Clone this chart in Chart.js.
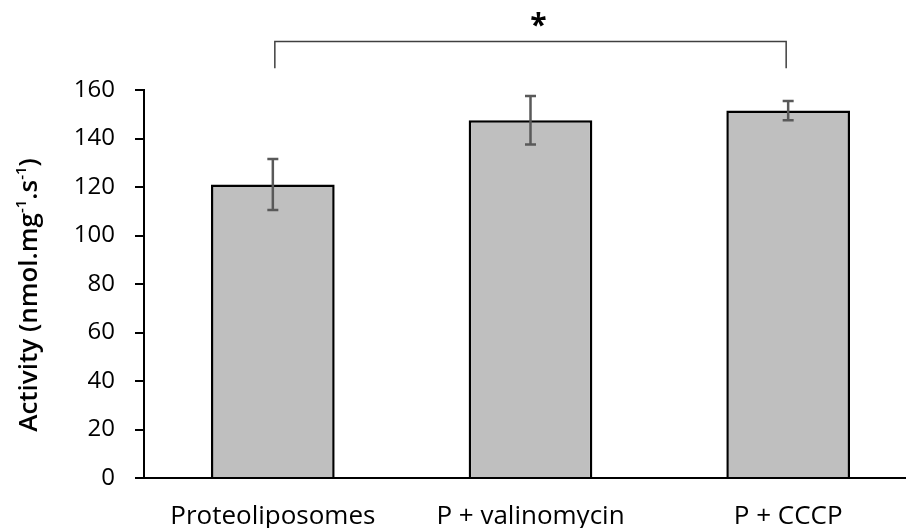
<!DOCTYPE html>
<html>
<head>
<meta charset="utf-8">
<script src="https://cdn.jsdelivr.net/npm/chart.js@4"></script>
<style>
  html, body { margin: 0; padding: 0; background: #fff; overflow: hidden; }
  canvas { display: block; }
</style>
</head>
<body>
<canvas id="activityChart" width="918" height="528"></canvas>
<script>
// Activity per condition, mean ± error
const conditions = ['Proteoliposomes', 'P + valinomycin', 'P + CCCP'];
const activity = [121, 147.5, 151.5];
const activityErr = [10.5, 10, 4];
const yTicks = [0, 20, 40, 60, 80, 100, 120, 140, 160];

// significance bracket: pair of bar indices, bracket level and drop level (axis units)
const sigPair = [0, 2];
const sigLevels = [180, 169];
const sigLabel = '*';

const FONT = "'Open Sans', sans-serif";

// error bars drawn from the data arrays through the scales
const errorBars = {
  id: 'errorBars',
  afterDatasetsDraw(chart) {
    const { ctx, scales: { y } } = chart;
    const meta = chart.getDatasetMeta(0);
    ctx.save();
    ctx.strokeStyle = '#595959';
    ctx.lineWidth = 2.5;
    meta.data.forEach((bar, i) => {
      const top = y.getPixelForValue(activity[i] + activityErr[i]);
      const bot = y.getPixelForValue(activity[i] - activityErr[i]);
      ctx.beginPath();
      ctx.moveTo(bar.x, top); ctx.lineTo(bar.x, bot);
      ctx.moveTo(bar.x - 5.5, top); ctx.lineTo(bar.x + 5.5, top);
      ctx.moveTo(bar.x - 5.5, bot); ctx.lineTo(bar.x + 5.5, bot);
      ctx.stroke();
    });
    ctx.restore();
  }
};

// bracket with asterisk above the compared bars
const sigBracket = {
  id: 'sigBracket',
  afterDraw(chart) {
    const { ctx, scales: { x, y } } = chart;
    const x1 = x.getPixelForValue(sigPair[0]) + 2;
    const x2 = x.getPixelForValue(sigPair[1]) - 2;
    const yTop = y.getPixelForValue(sigLevels[0]);
    const yDrop = y.getPixelForValue(sigLevels[1]);
    ctx.save();
    ctx.strokeStyle = '#404040';
    ctx.lineWidth = 1.5;
    ctx.beginPath();
    ctx.moveTo(x1, yDrop); ctx.lineTo(x1, yTop); ctx.lineTo(x2, yTop); ctx.lineTo(x2, yDrop);
    ctx.stroke();
    ctx.fillStyle = '#000';
    ctx.font = 'bold 30px ' + FONT;
    ctx.textAlign = 'center';
    ctx.textBaseline = 'middle';
    ctx.fillText(sigLabel, (x1 + x2) / 2 + 8, yTop - 15);
    ctx.restore();
  }
};

// y axis title with superscripts
const yTitle = {
  id: 'yTitle',
  afterDraw(chart) {
    const { ctx, chartArea } = chart;
    const parts = [['Activity (nmol.mg', false], ['-1', true], ['.s', false], ['-1', true], [')', false]];
    const main = '600 26px ' + FONT;
    const sup = '600 15px ' + FONT;
    ctx.save();
    let total = 0;
    parts.forEach(([t, s]) => { ctx.font = s ? sup : main; total += ctx.measureText(t).width; });
    ctx.translate(37, (chartArea.top + chartArea.bottom) / 2 + 11);
    ctx.rotate(-Math.PI / 2);
    ctx.fillStyle = '#000';
    ctx.textBaseline = 'alphabetic';
    let cx = -total / 2;
    parts.forEach(([t, s]) => {
      ctx.font = s ? sup : main;
      ctx.fillText(t, cx, s ? -11 : 0);
      cx += ctx.measureText(t).width;
    });
    ctx.restore();
  }
};

new Chart(document.getElementById('activityChart'), {
  type: 'bar',
  data: {
    labels: conditions,
    datasets: [{
      data: activity,
      backgroundColor: '#bfbfbf',
      borderColor: '#000',
      borderWidth: 2.5,
      categoryPercentage: 0.48,
      barPercentage: 1,
    }]
  },
  options: {
    responsive: false,
    animation: false,
    layout: { padding: { top: 90, right: 1, bottom: 0, left: 0 } },
    plugins: { legend: { display: false }, tooltip: { enabled: false } },
    scales: {
      x: {
        grid: { display: false },
        border: { display: true, color: '#000', width: 2 },
        ticks: { color: '#000', font: { family: FONT, size: 26 }, padding: 15, maxRotation: 0 },
        afterFit: s => { s.height = 50; }
      },
      y: {
        min: 0,
        max: 160,
        afterBuildTicks: s => { s.ticks = yTicks.map(v => ({ value: v })); },
        grid: { drawOnChartArea: false, drawTicks: true, tickLength: 9, color: '#000', lineWidth: 2 },
        border: { display: true, color: '#000', width: 2 },
        ticks: { color: '#000', font: { family: FONT, size: 24 }, padding: 20 },
        afterFit: s => { s.width = 144; }
      }
    }
  },
  plugins: [errorBars, sigBracket, yTitle]
});
</script>
</body>
</html>
